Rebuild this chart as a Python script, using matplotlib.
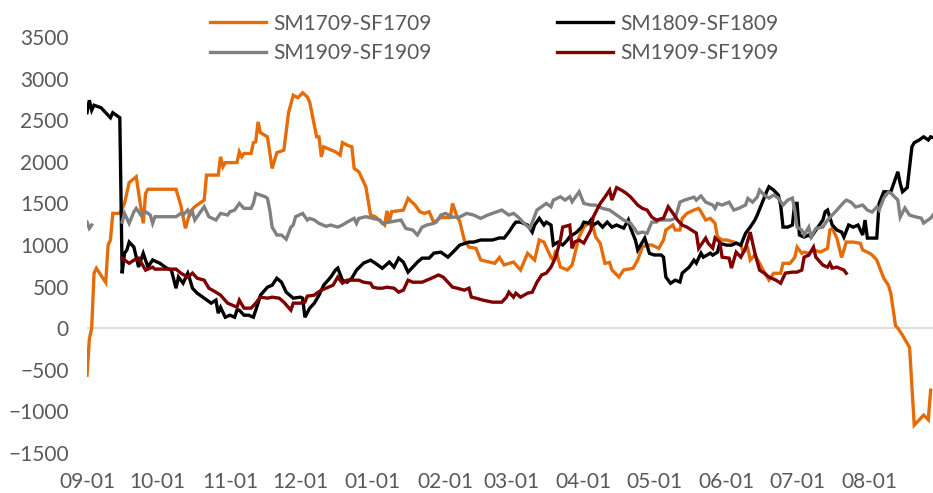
import numpy as np
import pandas as pd
import matplotlib
matplotlib.use('Agg')
import matplotlib.pyplot as plt
import matplotlib.dates as mdates

nan = np.nan
start = pd.Timestamp('2018-09-01')

# day offsets from 09-01 and spread values
orange_days = [0, 1, 2, 3, 4, 8, 9, 10, 11, 14, 15, 16, 18, 21, 24, 25, 26, 38, 40, 42, 44, 46, 50, 51, 56, 57, 58, 59,
               64, 65, 66, 67, 70, 71, 72, 73, 74, 77, 79, 81, 84, 86, 88, 90, 92, 94, 95, 98, 99, 100, 101, 106, 108,
               109, 111, 113, 114, 116, 119, 121, 123, 127, 128, 129, 130, 135, 137, 140, 142, 144, 146, 148, 151, 155,
               156, 158, 159, 161, 163, 166, 168, 174, 176, 178, 182, 185, 188, 191, 193, 195, 198, 199, 200, 202, 205,
               207, 210, 212, 214, 216, 217, 219, 221, 223, 224, 227, 229, 233, 235, 237, 239, 241, 244, 246, 247, 250,
               251, 253, 254, 256, 259, 261, 262, 264, 266, 268, 269, 271, 273, 276, 279, 280, 282, 283, 285, 287, 289,
               291, 293, 296, 297, 300, 302, 303, 305, 306, 308, 310, 313, 316, 317, 318, 320, 322, 324, 327, 330, 331,
               334, 335, 337, 340, 342, 343, 345, 346, 348, 351, 353, 355, 357, 359, 360]
orange_vals = [-565, -130, 0, 660, 720, 550, 1000, 1060, 1380, 1380, 1440, 1500, 1750, 1820, 1260, 1620, 1670, 1670,
               1480, 1200, 1400, 1460, 1540, 1840, 1840, 2060, 1940, 1990, 1990, 2120, 2060, 2100, 2100, 2230, 2240,
               2480, 2350, 2300, 1920, 2110, 2140, 2590, 2800, 2770, 2830, 2780, 2720, 2300, 2300, 2060, 2180, 2120,
               2080, 2230, 2200, 2180, 1920, 1880, 1700, 1360, 1340, 1240, 1410, 1280, 1400, 1420, 1560, 1480, 1400,
               1380, 1400, 1270, 1330, 1330, 1500, 1330, 1290, 1060, 975, 960, 820, 780, 850, 760, 795, 700, 900, 820,
               1060, 1035, 850, 820, 940, 735, 700, 760, 1100, 1215, 1260, 1215, 1100, 1020, 780, 790, 700, 615, 700,
               720, 820, 975, 1000, 1000, 960, 1060, 1180, 1240, 1180, 1180, 1320, 1380, 1420, 1440, 1400, 1300, 1320,
               1260, 1100, 1060, 1060, 1035, 1000, 915, 960, 820, 880, 780, 675, 580, 660, 660, 780, 780, 850, 975, 900,
               915, 900, 940, 915, 960, 1180, 1200, 1080, 850, 1035, 1035, 1020, 940, 900, 880, 820, 600, 515, 420, 30,
               0, -85, -230, -1165, -1105, -1045, -1100, -745]

black_days = [0, 1, 2, 3, 6, 10, 11, 14, 15, 16, 17, 18, 20, 22, 23, 24, 26, 28, 31, 34, 36, 38, 39, 41, 43, 44, 45, 47,
              50, 53, 55, 56, 57, 59, 61, 63, 64, 65, 67, 69, 71, 73, 74, 77, 79, 81, 83, 85, 88, 91, 92, 93, 95, 97, 99,
              101, 104, 106, 107, 109, 111, 113, 115, 118, 121, 123, 126, 129, 131, 133, 135, 137, 139, 141, 143, 146,
              148, 151, 154, 157, 159, 163, 165, 168, 173, 176, 178, 180, 182, 183, 185, 188, 190, 191, 193, 195, 196,
              198, 199, 201, 203, 205, 206, 209, 211, 212, 214, 215, 216, 218, 220, 222, 224, 226, 229, 231, 232, 234,
              235, 237, 238, 240, 242, 245, 246, 247, 249, 251, 253, 254, 257, 259, 260, 262, 263, 266, 267, 269, 270,
              273, 275, 277, 279, 281, 283, 285, 286, 288, 290, 291, 293, 295, 296, 297, 299, 301, 302, 303, 304, 306,
              308, 309, 311, 314, 315, 316, 318, 320, 322, 323, 325, 327, 329, 331, 332, 333, 335, 337, 338, 340, 343,
              346, 347, 348, 350, 352, 353, 355, 357, 359, 360, 361]
black_vals = [2590, 2740, 2620, 2680, 2650, 2530, 2590, 2530, 660, 900, 940, 1035, 975, 735, 820, 900, 735, 820, 782,
              722, 698, 480, 615, 541, 660, 577, 481, 421, 361, 301, 337, 180, 250, 132, 156, 132, 217, 217, 156, 156,
              132, 301, 397, 493, 517, 600, 553, 433, 361, 373, 361, 132, 240, 301, 397, 517, 614, 698, 722, 577, 553,
              601, 698, 782, 818, 782, 720, 795, 734, 842, 794, 674, 734, 794, 842, 842, 902, 914, 854, 938, 998, 1035,
              1035, 1060, 1060, 1085, 1083, 1155, 1240, 1275, 1275, 1240, 1155, 1240, 1320, 1240, 1275, 1240, 1000,
              1035, 1000, 1060, 1100, 1155, 1215, 1275, 1263, 1300, 1240, 1275, 1215, 1275, 1215, 1240, 1203, 1300,
              1200, 1060, 940, 1035, 1083, 900, 880, 880, 854, 615, 540, 577, 555, 662, 735, 818, 782, 902, 854, 902,
              878, 914, 1020, 998, 998, 1023, 998, 1140, 1215, 1300, 1360, 1500, 1640, 1700, 1660, 1600, 1480, 1215,
              1215, 1240, 1500, 1500, 1120, 1095, 1120, 1095, 1179, 1300, 1400, 1420, 1240, 1180, 1155, 1095, 1240,
              1215, 1240, 1120, 1300, 1083, 1083, 1083, 1500, 1640, 1640, 1880, 1740, 1640, 1690, 2180, 2230, 2260,
              2300, 2262, 2300, 2290]

gray_days = [0, 1, 2, 8, 15, 16, 18, 20, 21, 23, 25, 27, 28, 29, 38, 40, 41, 43, 44, 45, 46, 48, 50, 52, 55, 57, 60, 61,
             63, 65, 67, 70, 71, 72, 74, 76, 77, 78, 79, 81, 83, 85, 87, 88, 89, 92, 94, 95, 97, 99, 102, 104, 107, 109,
             111, 114, 115, 116, 119, 122, 125, 126, 129, 134, 136, 139, 141, 143, 145, 148, 149, 151, 153, 156, 159,
             162, 165, 168, 171, 173, 177, 180, 182, 184, 186, 189, 192, 194, 196, 198, 199, 202, 204, 206, 207, 210,
             212, 215, 217, 220, 223, 226, 229, 232, 235, 237, 239, 241, 243, 244, 246, 249, 251, 253, 255, 259, 260,
             262, 264, 267, 268, 269, 271, 274, 276, 278, 281, 282, 284, 286, 287, 289, 291, 293, 295, 297, 299, 301,
             302, 303, 305, 306, 308, 309, 311, 314, 316, 318, 320, 323, 324, 326, 328, 331, 333, 335, 337, 338, 340,
             342, 343, 346, 347, 349, 351, 354, 356, 357, 360, 361]
gray_vals = [1275, 1200, 1240, nan, 1275, 1380, 1260, 1400, 1440, 1360, 1400, 1360, 1260, 1340, 1340, 1380, 1360, 1420,
             1360, 1400, 1300, 1380, 1460, 1340, 1300, 1380, 1360, 1400, 1420, 1500, 1440, 1440, 1500, 1620, 1600,
             1580, 1560, 1420, 1215, 1120, 1120, 1070, 1215, 1240, 1340, 1380, 1300, 1320, 1300, 1260, 1225, 1240,
             1215, 1240, 1275, 1320, 1260, 1320, 1340, 1320, 1300, 1260, 1275, 1300, 1200, 1180, 1120, 1215, 1240,
             1260, 1275, 1360, 1380, 1335, 1335, 1380, 1360, 1320, 1360, 1380, 1420, 1360, 1380, 1335, 1275, 1200,
             1420, 1460, 1500, 1460, 1540, 1580, 1540, 1580, 1520, 1640, 1500, 1480, 1480, 1440, 1420, 1360, 1300,
             1260, 1140, 1155, 1140, 1275, 1275, 1300, 1300, 1300, 1320, 1515, 1540, 1575, 1540, 1590, 1515, 1480,
             1440, 1500, 1480, 1515, 1420, 1440, 1480, 1560, 1515, 1576, 1660, 1600, 1564, 1600, 1564, 1480, 1540,
             1564, 1420, 1215, 1180, 1120, 1215, 1100, 1200, 1215, 1300, 1360, 1420, 1515, 1540, 1515, 1456, 1480,
             1420, 1396, 1456, 1420, 1564, 1636, 1624, 1540, 1335, 1444, 1359, 1335, 1323, 1263, 1323, 1360]

red_days = [15, 18, 20, 22, 25, 28, 29, 34, 38, 40, 43, 45, 47, 50, 52, 55, 57, 60, 62, 64, 65, 67, 70, 72, 74, 77, 79,
            82, 84, 87, 88, 91, 93, 94, 97, 98, 100, 103, 105, 107, 108, 109, 111, 113, 116, 118, 121, 122, 124, 126,
            128, 131, 133, 135, 137, 139, 143, 145, 147, 150, 152, 154, 156, 158, 161, 163, 164, 166, 169, 173, 177,
            179, 180, 182, 183, 185, 188, 190, 192, 194, 196, 198, 200, 202, 203, 206, 207, 208, 210, 212, 215, 216,
            219, 221, 223, 224, 226, 228, 230, 232, 235, 237, 239, 241, 243, 246, 248, 250, 252, 254, 256, 258, 260,
            261, 264, 265, 267, 268, 270, 271, 274, 275, 277, 279, 281, 283, 285, 287, 289, 291, 294, 296, 298, 301,
            303, 305, 306, 308, 310, 311, 314, 316, 317, 318, 320, 323, 324]
red_vals = [840, 780, 818, 842, 698, 734, 710, 710, 710, 662, 614, 662, 601, 577, 481, 433, 397, 301, 277, 253, 337,
            241, 241, 301, 373, 361, 373, 361, 313, 217, 301, 301, 313, 385, 397, 421, 457, 493, 517, 614, 577, 541,
            577, 577, 577, 553, 541, 493, 481, 481, 493, 481, 433, 457, 577, 553, 553, 577, 601, 640, 614, 553, 493,
            481, 457, 481, 373, 361, 337, 313, 313, 373, 433, 373, 421, 373, 421, 433, 553, 640, 662, 734, 854, 1060,
            1215, 1239, 960, 1035, 1060, 1023, 1180, 1335, 1500, 1576, 1660, 1540, 1690, 1660, 1624, 1576, 1480, 1440,
            1420, 1335, 1299, 1323, 1460, 1383, 1299, 1239, 1215, 1179, 1143, 960, 1083, 1023, 962, 1085, 1035, 854,
            842, 722, 914, 854, 962, 1155, 902, 698, 662, 614, 577, 541, 662, 674, 674, 698, 854, 878, 974, 854, 758,
            734, 782, 722, 734, 698, 660]

series = [
    ('SM1709-SF1709', orange_days, orange_vals, '#E46C0A'),
    ('SM1809-SF1809', black_days, black_vals, '#000000'),
    ('SM1909-SF1909', gray_days, gray_vals, '#808080'),
    ('SM1909-SF1909', red_days, red_vals, '#7F0000'),
]

plt.rcParams['font.family'] = ['Lato', 'DejaVu Sans']
txt = '#595959'

fig = plt.figure(figsize=(9.33, 4.93), dpi=100)
ax = fig.add_axes([87 / 933, 1 - 453 / 493, 846 / 933, 416 / 493])

lines = []
for name, days, vals, col in series:
    x = start + pd.to_timedelta(days, unit='D')
    ln, = ax.plot(x, vals, color=col, lw=2.4, label=name, solid_joinstyle='miter')
    lines.append(ln)

ax.axhline(0, color='#D9D9D9', lw=1.3, zorder=0)
ax.set_ylim(-1500, 3500)
ax.set_yticks(np.arange(-1500, 3501, 500))
ax.set_xlim(start, start + pd.Timedelta(days=361))
ax.xaxis.set_major_locator(mdates.MonthLocator())
ax.xaxis.set_major_formatter(mdates.DateFormatter('%m-%d'))
for s in ax.spines.values():
    s.set_visible(False)
ax.tick_params(axis='both', length=0, labelsize=15, colors=txt)
ax.tick_params(axis='x', pad=14)
ax.tick_params(axis='y', pad=13)

# excel fills the legend row by row
order = [0, 2, 1, 3]
fig.legend([lines[i] for i in order], [lines[i].get_label() for i in order], ncol=2, loc='center',
           bbox_to_anchor=(0.53, 0.922), frameon=False, fontsize=15, handlelength=2.7, handletextpad=0.35,
           columnspacing=6.0, labelspacing=0.45, labelcolor=txt)

fig.savefig('out.png', dpi=100)
